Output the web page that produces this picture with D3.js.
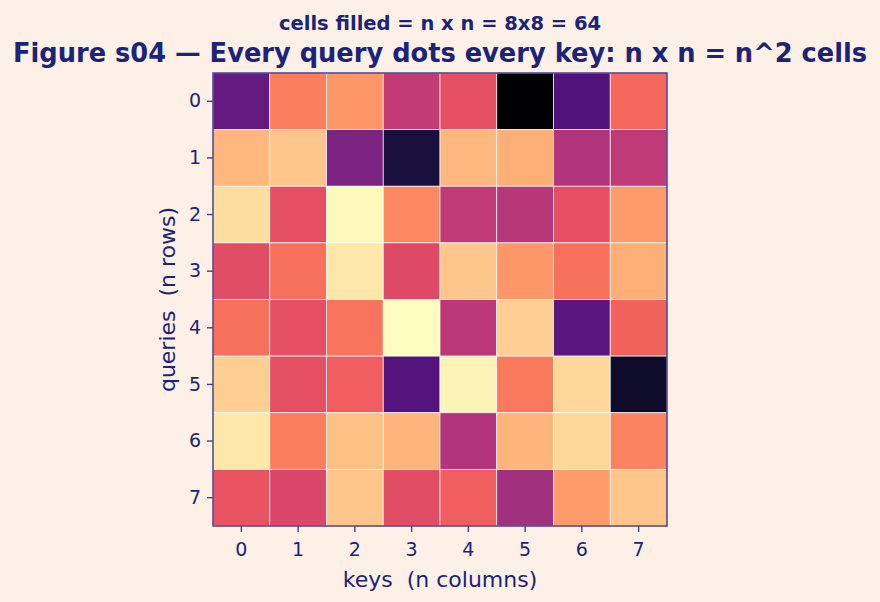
<!DOCTYPE html>
<html>
<head>
<meta charset="utf-8">
<script src="https://cdn.jsdelivr.net/npm/d3@7"></script>
<style>
  body { margin: 0; background: #fdf1e7; }
  svg { display: block; }
  text { white-space: pre; }
</style>
</head>
<body>
<script>
'use strict';

// row / column labels
var queries = [0, 1, 2, 3, 4, 5, 6, 7];
var keys = [0, 1, 2, 3, 4, 5, 6, 7];

// scores (one array per query row)
var row0 = [0.30, 0.73, 0.78, 0.53, 0.62, 0.00, 0.25, 0.68];
var row1 = [0.85, 0.88, 0.36, 0.11, 0.85, 0.83, 0.49, 0.52];
var row2 = [0.93, 0.62, 0.99, 0.75, 0.52, 0.50, 0.62, 0.79];
var row3 = [0.61, 0.70, 0.95, 0.60, 0.88, 0.78, 0.70, 0.83];
var row4 = [0.70, 0.62, 0.71, 1.00, 0.51, 0.90, 0.28, 0.67];
var row5 = [0.90, 0.62, 0.66, 0.26, 0.98, 0.72, 0.92, 0.08];
var row6 = [0.95, 0.73, 0.87, 0.84, 0.49, 0.84, 0.92, 0.74];
var row7 = [0.63, 0.59, 0.88, 0.61, 0.66, 0.45, 0.79, 0.88];
var scores = [row0, row1, row2, row3, row4, row5, row6, row7];

var width = 880, height = 602;
var ink = '#1c2378';
var frame = '#4b3f86';
var fontFamily = '"DejaVu Sans", sans-serif';
var margin = {left: 213, top: 73, right: 213, bottom: 76};
var plotW = width - margin.left - margin.right;
var plotH = height - margin.top - margin.bottom;

var svg = d3.select('body').append('svg')
    .attr('width', width)
    .attr('height', height)
    .style('font-family', fontFamily);

svg.append('rect')
    .attr('width', width)
    .attr('height', height)
    .attr('fill', '#fdf1e7');

var x = d3.scaleBand().domain(keys).range([0, plotW]);
var y = d3.scaleBand().domain(queries).range([0, plotH]);

var flat = [];
scores.forEach(function(r, qi) {
    r.forEach(function(v, ki) {
        flat.push({q: queries[qi], k: keys[ki], v: v});
    });
});
var color = d3.scaleSequential(d3.interpolateMagma)
    .domain(d3.extent(flat, function(d) { return d.v; }));

var g = svg.append('g')
    .attr('transform', 'translate(' + margin.left + ',' + margin.top + ')');

// cells
g.selectAll('rect.cell')
    .data(flat)
    .enter().append('rect')
    .attr('class', 'cell')
    .attr('x', function(d) { return x(d.k); })
    .attr('y', function(d) { return y(d.q); })
    .attr('width', x.bandwidth())
    .attr('height', y.bandwidth())
    .attr('fill', function(d) { return color(d.v); })
    .attr('stroke', 'rgba(255,255,255,0.85)')
    .attr('stroke-width', 0.8);

// frame
g.append('rect')
    .attr('width', plotW)
    .attr('height', plotH)
    .attr('fill', 'none')
    .attr('stroke', frame)
    .attr('stroke-width', 1.5);

// axes
var xAxis = g.append('g')
    .attr('transform', 'translate(0,' + plotH + ')')
    .call(d3.axisBottom(x).tickSize(6).tickPadding(11));
var yAxis = g.append('g')
    .call(d3.axisLeft(y).tickSize(6).tickPadding(6));

[xAxis, yAxis].forEach(function(a) {
    a.select('.domain').remove();
    a.selectAll('line').attr('stroke', frame).attr('stroke-width', 1.4);
    a.selectAll('text')
        .attr('fill', ink)
        .style('font-size', '19px')
        .style('font-family', fontFamily);
});

// axis labels
svg.append('text')
    .attr('x', margin.left + plotW / 2)
    .attr('y', 587)
    .attr('text-anchor', 'middle')
    .attr('fill', ink)
    .style('font-size', '22px')
    .text('keys  (n columns)');

svg.append('text')
    .attr('transform', 'translate(175,' + (margin.top + plotH / 2) + ') rotate(-90)')
    .attr('text-anchor', 'middle')
    .attr('fill', ink)
    .style('font-size', '22px')
    .text('queries  (n rows)');

// titles
svg.append('text')
    .attr('x', width / 2)
    .attr('y', 62)
    .attr('text-anchor', 'middle')
    .attr('fill', ink)
    .style('font-size', '25.7px')
    .style('font-weight', 'bold')
    .text('Figure s04 \u2014 Every query dots every key: n x n = n^2 cells');

svg.append('text')
    .attr('x', width / 2)
    .attr('y', 30)
    .attr('text-anchor', 'middle')
    .attr('fill', ink)
    .style('font-size', '19.5px')
    .style('font-weight', 'bold')
    .text('cells filled = n x n = 8x8 = 64');
</script>
</body>
</html>
